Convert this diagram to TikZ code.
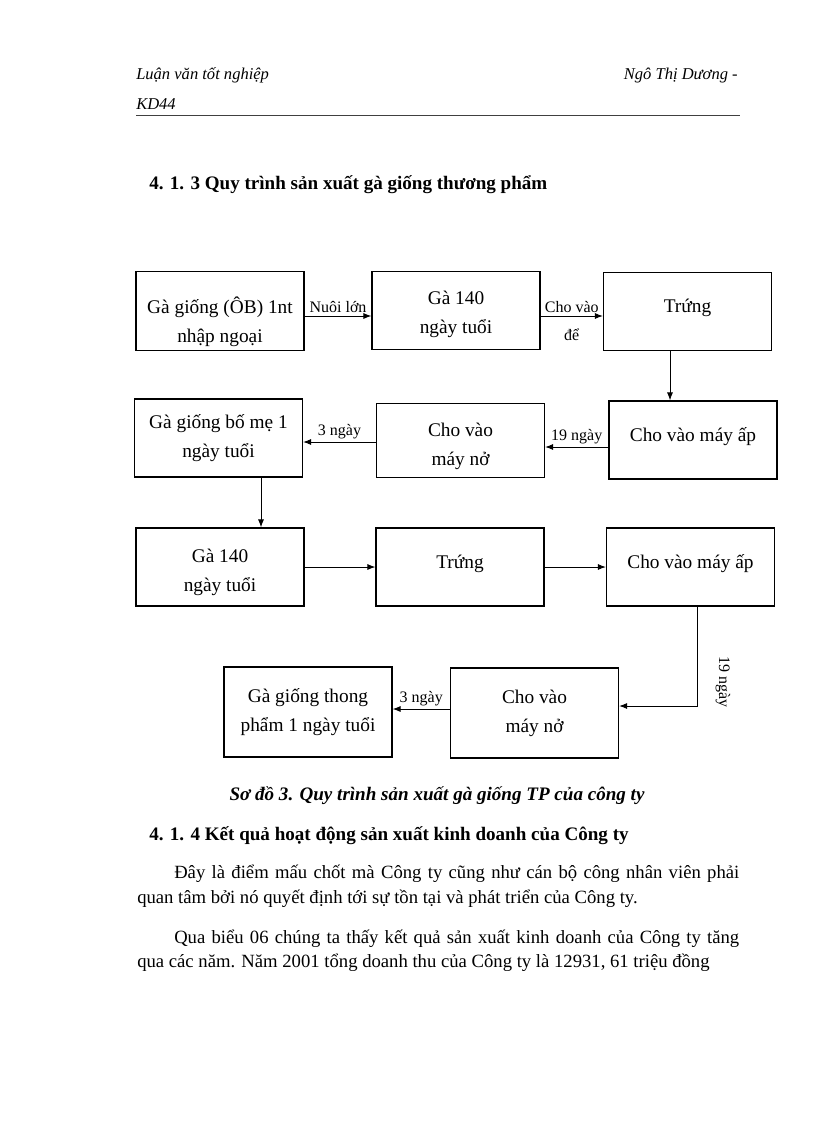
\documentclass[tikz,border=0pt]{standalone}
\usepackage{fontspec}
\setmainfont{Liberation Serif}
\usetikzlibrary{arrows.meta,graphs}
\tikzset{
    >={Latex[length=6pt,width=4.5pt]},
    box/.style ={
        shape=rectangle,
        draw=black,
        line width=0.85pt,
        minimum width=126pt,
        minimum height=58.5pt,
        align=center,
        font=\fontsize{14.5}{21.75}\selectfont
    },
    oneline/.style ={
        text height=11pt,
        text depth=9.5pt
    },
    txtdrop/.style ={
        text height=#1,
        text depth=3pt
    },
    lbl/.style ={
        font=\fontsize{12}{14}\selectfont,
        inner sep=2pt
    },
    arr/.style ={
        ->,
        line width=0.7pt
    },
    hdr/.style ={
        font=\fontsize{12.4}{14}\selectfont\itshape,
        inner sep=0pt
    },
    head/.style ={
        font=\fontsize{14.3}{16}\selectfont\bfseries,
        inner sep=0pt
    },
    body/.style ={
        font=\fontsize{14}{16}\selectfont,
        inner sep=0pt
    }
}

\begin{document}
\begin{tikzpicture}[x=0.75pt,y=-0.75pt]
    \path[fill=white] (0,0) rectangle (816,1123);
    \node[hdr, anchor=base west] (h1) at (136,80) {Luận văn tốt nghiệp};
    \node[hdr, anchor=base east] (h2) at (738,80) {Ngô Thị Dương -};
    \node[hdr, anchor=base west] (h3) at (136,110) {KD44};
    \draw[black!75, line width=0.75pt] (136,116) -- (740,116);
    \node[head, anchor=base west] (s1) at (149,190) {4. 1. 3 Quy trình sản xuất gà giống thương phẩm};

    \node[box, txtdrop=50pt] (ob) at (220,311) {Gà giống (ÔB) 1nt\\nhập ngoại};
    \node[box, txtdrop=38pt] (ga1) at (456,310.5) {Gà 140\\ngày tuổi};
    \node[box,oneline] (trung1) at (687.5,311.5) {Trứng};
    \node[box,oneline] (ap1) at (693,440) {Cho vào máy ấp};
    \node[box, txtdrop=41pt, minimum height=56pt] (no1) at (460.5,440.5) {Cho vào\\máy nở};
    \node[box] (bome) at (218.5,438) {Gà giống bố mẹ 1\\ngày tuổi};
    \node[box, txtdrop=39.5pt] (ga2) at (220,567) {Gà 140\\ngày tuổi};
    \node[box,oneline] (trung2) at (460,567) {Trứng};
    \node[box,oneline] (ap2) at (690.5,567) {Cho vào máy ấp};
    \node[box, minimum height=67.5pt] (no2) at (534.5,713) {Cho vào\\máy nở};
    \node[box, minimum height=67.5pt] (tp) at (308,712) {Gà giống thong\\phẩm 1 ngày tuổi};

    \draw[arr] (ob.east |- 0,316) -- (ga1.west |- 0,316)
        node[lbl, midway, above] (l1) {Nuôi lớn};
    \draw[arr] (ga1.east |- 0,316) -- (trung1.west |- 0,316)
        node[lbl, midway, above] (l2) {Cho vào}
        node[lbl, midway, below, yshift=-7pt] (l3) {để};
    \draw[arr] (trung1.south -| 670,0) -- (ap1.north -| 670,0);
    \draw[arr] (ap1.west |- 0,447) -- (no1.east |- 0,447)
        node[lbl, midway, above] (l4) {19 ngày};
    \draw[arr] (no1.west |- 0,442) -- (bome.east |- 0,442)
        node[lbl, midway, above] (l5) {3 ngày};
    \draw[arr] (bome.south -| 261,0) -- (ga2.north -| 261,0);
    \graph[edges={line width=0.7pt}]{
        (ga2)->(trung2)->(ap2);
    };
    \draw[arr] (ap2.south -| 697,0) |- (no2.east |- 0,706)
        node[lbl, pos=0.38, rotate=-90, anchor=south, outer ysep=12pt] (l6) {19 ngày};
    \draw[arr] (no2.west |- 0,709) -- (tp.east |- 0,709)
        node[lbl, midway, above] (l7) {3 ngày};

    \node[head, font=\fontsize{14.3}{16}\selectfont\bfseries\itshape, anchor=base] (cap) at (437,800) {Sơ đồ 3. Quy trình sản xuất gà giống TP của công ty};
    \node[head, anchor=base west] (s2) at (149,840) {4. 1. 4 Kết quả hoạt động sản xuất kinh doanh của Công ty};
    \node[body, anchor=base west] (p1) at (174,878) {\makebox[423.75pt][s]{Đây là điểm mấu chốt mà Công ty cũng như cán bộ công nhân viên phải}};
    \node[body, anchor=base west] (p2) at (137,903) {quan tâm bởi nó quyết định tới sự tồn tại và phát triển của Công ty.};
    \node[body, anchor=base west] (p3) at (174,943) {\makebox[423.75pt][s]{Qua biểu 06 chúng ta thấy kết quả sản xuất kinh doanh của Công ty tăng}};
    \node[body, anchor=base west] (p4) at (137,967) {qua các năm. Năm 2001 tổng doanh thu của Công ty là 12931, 61 triệu đồng};
\end{tikzpicture}
\end{document}
